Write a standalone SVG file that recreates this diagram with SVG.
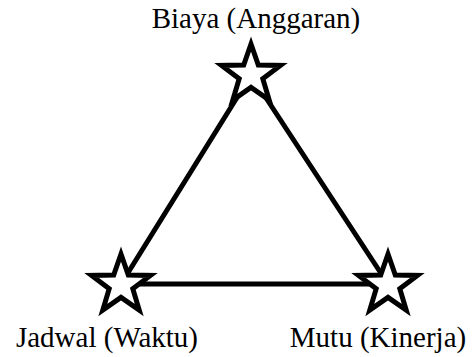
<svg xmlns="http://www.w3.org/2000/svg" width="473" height="357" viewBox="0 0 473 357">
<defs>
<style>
.edge{stroke:#000;stroke-width:5;fill:none;stroke-linecap:round}
.star{fill:#fff;stroke:#000;stroke-width:5;stroke-linejoin:miter}
.lbl{font-family:"Liberation Serif","Times New Roman",serif;font-size:29px;fill:#000}
</style>
<polygon id="st" points="0,-31 7.3,-10 29.5,-9.6 11.8,3.8 18.2,25.1 0,12.4 -18.2,25.1 -11.8,3.8 -29.5,-9.6 -7.3,-10"/>
</defs>
<g id="connectors">
<line class="edge" x1="251" y1="75" x2="121" y2="284"/>
<line class="edge" x1="251" y1="75" x2="388" y2="284"/>
<line class="edge" x1="121" y1="284" x2="388" y2="284"/>
</g>
<g id="biaya">
<use href="#st" class="star" x="251" y="75"/>
<text class="lbl" x="256" y="28" text-anchor="middle">Biaya (Anggaran)</text>
</g>
<g id="jadwal">
<use href="#st" class="star" x="121" y="285"/>
<text class="lbl" x="107" y="347" text-anchor="middle">Jadwal (Waktu)</text>
</g>
<g id="mutu">
<use href="#st" class="star" x="388" y="285"/>
<text class="lbl" x="378" y="347" text-anchor="middle">Mutu (Kinerja)</text>
</g>
</svg>
